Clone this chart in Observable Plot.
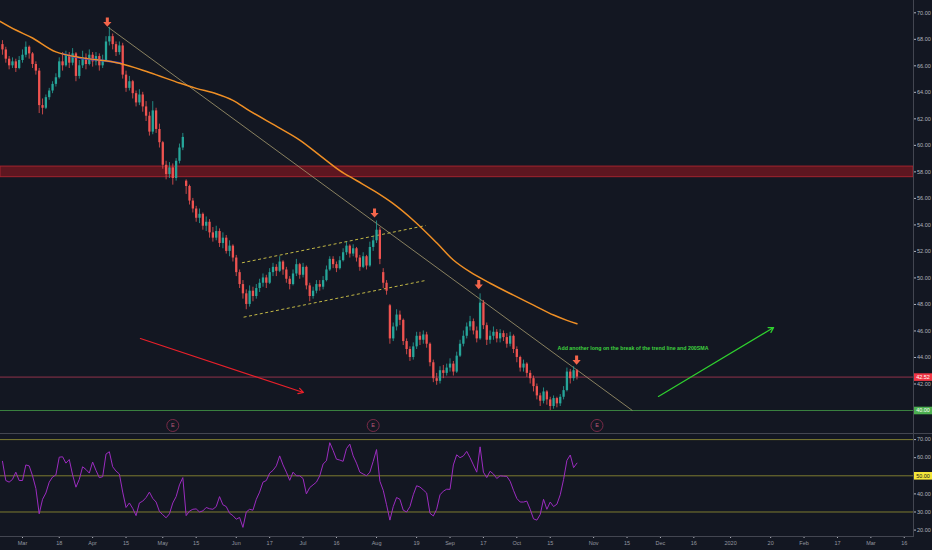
<!DOCTYPE html>
<html><head><meta charset="utf-8">
<script src="https://cdn.jsdelivr.net/npm/d3@7"></script>
<script src="https://cdn.jsdelivr.net/npm/@observablehq/plot@0.6"></script>
<style>
html,body{margin:0;padding:0;background:#131722;}
#chart{width:932px;height:550px;overflow:hidden;background:#131722;}
#chart svg{display:block;}
.divider{height:1px;background:#434651;width:932px;}
</style></head><body><div id="chart"></div>
<script>
// ---------- data ----------
const baseDate = "2019-03-01";   // bar 0
const firstDate = "2019-02-21";  // first candle
const holidays = ["2019-04-19","2019-05-27","2019-07-04","2019-09-02","2019-11-28","2019-12-25","2020-01-01"];

const opens = [67.6,67.2,66.5,66.0,66.3,65.8,
66.4,66.8,67.4,66.9,66.1,65.6,63.0,62.8,63.6,64.1,
64.6,65.1,66.3,66.0,66.8,66.2,66.9,65.2,66.0,66.6,
66.1,66.8,66.3,66.7,66.0,66.4,67.8,68.2,67.6,67.0,
67.5,65.3,64.3,64.8,63.9,63.2,63.8,62.9,62.2,61.0,
62.6,61.2,60.2,58.5,57.8,58.3,57.5,58.8,59.8,57.3,
56.9,55.8,55.2,54.5,54.8,53.9,54.2,53.4,53.0,53.5,
52.6,53.0,52.0,52.4,51.5,50.4,49.5,48.8,48.0,49.0,
48.6,49.2,49.6,50.0,49.6,50.4,50.8,50.5,51.2,50.6,
49.9,49.5,50.3,51.0,50.2,50.8,49.4,48.6,49.0,49.5,
49.3,49.8,50.6,51.4,51.0,50.7,51.3,51.9,52.4,51.8,
52.2,51.5,50.8,51.6,50.9,52.3,52.8,53.6,50.4,49.6,
47.9,45.4,46.3,47.2,46.8,45.2,44.6,44.0,44.8,45.6,
45.3,45.7,45.0,43.6,42.4,42.2,43.0,42.8,43.2,43.5,
42.9,44.1,45.0,45.6,46.3,46.7,46.0,45.4,48.1,46.4,
45.3,45.6,45.9,45.4,45.8,45.5,45.0,45.6,44.6,44.0,
43.2,43.5,42.8,42.4,41.8,41.1,40.7,41.4,40.8,40.3,
40.9,40.5,41.0,41.5,42.9,42.4,43.0];
const highs = [67.9,67.4,66.7,66.6,66.5,66.7,
67.2,67.8,67.5,67.0,66.3,65.8,63.5,63.8,64.3,64.8,
65.4,66.6,67.0,67.1,67.0,67.3,67.0,66.4,67.1,66.9,
67.2,67.0,67.0,66.9,66.8,68.2,68.9,68.4,67.8,67.8,
67.7,65.6,65.2,64.9,64.1,64.2,64.0,63.3,62.5,63.3,
62.8,61.6,60.3,58.8,58.7,58.6,59.0,60.1,60.9,57.4,
57.0,56.0,55.4,55.2,54.9,54.6,54.4,53.8,53.9,53.7,
53.4,53.2,52.8,52.5,51.7,50.6,49.8,49.1,49.4,49.3,
49.5,49.9,50.3,50.2,50.7,51.1,51.0,51.6,51.3,50.8,
50.1,50.6,51.4,51.1,51.1,50.9,49.6,49.3,49.8,49.8,
50.1,50.9,51.6,51.6,51.2,51.6,52.2,52.7,52.5,52.5,
52.3,51.7,51.9,51.7,52.7,53.1,54.3,53.8,50.7,49.8,
48.0,46.6,47.6,47.5,46.9,45.4,44.8,45.1,45.9,45.9,
46.0,45.9,45.1,43.8,42.8,43.3,43.4,43.5,43.9,43.7,
44.4,45.3,46.0,46.6,47.1,46.9,46.3,48.8,48.3,46.6,
46.0,46.3,46.1,46.1,46.0,45.8,45.9,45.7,44.8,44.1,
43.8,43.6,43.0,42.6,42.0,41.3,41.7,41.5,41.0,41.1,
41.0,41.2,41.8,43.2,43.1,43.3,43.1];
const lows = [66.8,66.2,65.7,65.8,65.5,65.7,
66.2,66.6,66.5,65.8,65.3,62.4,62.3,62.7,63.4,63.9,
64.4,65.0,65.6,65.9,65.8,66.0,64.8,65.0,65.8,65.7,
66.0,65.9,66.0,65.6,65.8,66.3,67.5,67.2,66.7,66.8,
65.0,64.0,64.1,63.5,62.9,63.0,62.5,61.8,60.7,60.8,
60.9,59.8,58.2,57.4,57.5,57.0,57.3,58.6,59.6,56.3,
55.5,54.9,54.2,54.1,53.6,53.5,53.0,52.7,52.8,52.3,
52.2,51.8,51.6,51.2,50.1,49.2,48.4,47.6,47.8,48.2,
48.4,48.9,49.3,49.2,49.5,50.1,50.1,50.4,50.2,49.6,
49.1,49.4,50.1,49.9,50.0,49.1,48.2,48.4,48.8,49.0,
49.1,49.7,50.5,50.7,50.4,50.6,51.2,51.7,51.5,51.6,
51.2,50.5,50.7,50.6,50.8,52.0,52.6,51.0,49.2,48.7,
45.0,45.2,46.0,46.4,44.9,44.2,43.7,43.8,44.6,44.9,
45.0,44.7,43.3,42.1,41.9,42.0,42.4,42.6,42.9,42.6,
42.8,44.0,44.8,45.4,46.0,45.7,45.1,45.3,46.1,44.9,
45.0,45.3,45.1,45.1,45.2,44.7,44.8,44.3,43.6,42.9,
42.9,42.5,42.0,41.4,40.8,40.3,40.5,40.4,40.0,40.1,
40.2,40.3,40.8,41.4,42.0,42.2,42.3];
const closes = [67.2,66.5,66.0,66.3,65.8,66.4,
66.8,67.4,66.9,66.1,65.6,63.0,62.8,63.6,64.1,64.6,
65.1,66.3,66.0,66.8,66.2,66.9,65.2,66.0,66.6,66.1,
66.8,66.3,66.7,66.0,66.4,67.8,68.2,67.6,67.0,67.5,
65.3,64.3,64.8,63.9,63.2,63.8,62.9,62.2,61.0,62.6,
61.2,60.2,58.5,57.8,58.3,57.5,58.8,59.8,60.6,56.9,
55.8,55.2,54.5,54.8,53.9,54.2,53.4,53.0,53.5,52.6,
53.0,52.0,52.4,51.5,50.4,49.5,48.8,48.0,49.0,48.6,
49.2,49.6,50.0,49.6,50.4,50.8,50.5,51.2,50.6,49.9,
49.5,50.3,51.0,50.2,50.8,49.4,48.6,49.0,49.5,49.3,
49.8,50.6,51.4,51.0,50.7,51.3,51.9,52.4,51.8,52.2,
51.5,50.8,51.6,50.9,52.3,52.8,53.6,51.4,49.6,49.0,
45.4,46.3,47.2,46.8,45.2,44.6,44.0,44.8,45.6,45.3,
45.7,45.0,43.6,42.4,42.2,43.0,42.8,43.2,43.5,42.9,
44.1,45.0,45.6,46.3,46.7,46.0,45.4,48.1,46.4,45.3,
45.6,45.9,45.4,45.8,45.5,45.0,45.6,44.6,44.0,43.2,
43.5,42.8,42.4,41.8,41.1,40.7,41.4,40.8,40.3,40.9,
40.5,41.0,41.5,42.9,42.4,43.0,42.52];
const rsiValues = [58,47.4,46.5,48,52,47.4,
47.4,56,55.5,50,43,29,37,40.5,46.5,49.3,
50.5,60.3,60.5,57,59,50.5,43.7,48,55,53.5,
51.5,57.6,53,49,49.5,62,63.3,55,52.6,51,
41,32.5,35,32,28,35,36,38,41,37.5,
35.5,30.3,28.5,26.8,29,35,38.5,45,49,28,
30.5,31.5,31.7,30,30.6,32.5,31.8,31.5,33,38.5,
34,33,29.3,28,26,27,21.5,30,31.5,31,
37,41,46.5,47.4,51.5,53,55.5,61,56,52,
47.5,52,50,50,48.5,40,43.5,45,46.5,50,
56.5,58.3,68.3,64,59.2,58.7,58,65,67.5,61,
57,52,51,50,52,58,64.5,47,42,34,
25.5,33,38,37,31,30,33,39.5,44.5,43.8,
42.2,40.5,29.3,27.8,31.5,39.5,41.5,42.6,42.5,56,
61.6,60,61,63.5,60,56,52,66,52,49,
52.5,51,48.5,50,49.8,49.7,47,42,37.5,35.5,
35.5,36,31.5,26.2,25.5,28.6,37,31.5,35.5,33,
34.3,39.5,48,58.5,61.5,54.5,57];

// 200 SMA (bar, value)
const smaBars   = [-7,-2,3,10,18,29,38,47,52,58,63,68,77,83,89,95,100,106,111,117,124,129,134,140,147,153,159,163,166];
const smaValues = [69.4,68.7,68.1,67.05,66.6,66.2,65.5,64.7,64.3,63.9,63.4,62.6,61.3,60.4,59.25,58.1,57.35,56.45,55.6,54.35,52.65,51.35,50.45,49.6,48.7,47.95,47.2,46.8,46.55];
const blueBars = [12,17,24,29.5];
const blueValues = [66.9,66.6,66.4,66.2];

// drawings (bar, price)
const trendLine = [[25.7,68.9],[182.6,40.0]];
const channelUpper = [[65.7,51.14],[120.7,53.95]];
const channelLower = [[66.2,47.04],[120.7,49.81]];
const redArrow = [[35.3,45.43],[84.1,41.36]];
const greenArrow = [[190.4,41.06],[224.9,46.26]];
const peakMarkers = [[25.4,69.3],[105.4,54.9],[136.6,49.5],[165.9,43.8]];
const earningsBars = [45,105,172];
const earningsLevel = 38.87;
const supplyZone = [57.6,58.4];
const lastPrice = 42.52;
const supportLevel = 40.00;
const note = {bar:160.2, price:44.68, text:"Add another long on the break of the trend line and 200SMA"};

// axis tick values (40.00 and 50.00 are shown by their coloured tags)
const priceTicks = [42,44,46,48,50,52,54,56,58,60,62,64,66,68,70];
const rsiTicks = [20,30,40,60,70];
const rsiBands = [70,50,30];
const rsiMid = 50;
const timeTicks = [["2019-03-01","Mar"],["2019-03-18","18"],["2019-04-01","Apr"],["2019-04-15","15"],["2019-05-01","May"],["2019-05-15","15"],["2019-06-03","Jun"],["2019-06-17","17"],["2019-07-01","Jul"],["2019-07-16","16"],["2019-08-01","Aug"],["2019-08-19","19"],["2019-09-03","Sep"],["2019-09-17","17"],["2019-10-01","Oct"],["2019-10-15","15"],["2019-11-01","Nov"],["2019-11-15","15"],["2019-12-02","Dec"],["2019-12-16","16"],["2020-01-02","2020"],["2020-01-20","20"],["2020-02-03","Feb"],["2020-02-17","17"],["2020-03-02","Mar"],["2020-03-16","16"]];

// ---------- calendar ----------
function tradingDays(from, to){
  const out=[]; const hol=new Set(holidays);
  for(let d=new Date(from+"T00:00:00Z"); d<=new Date(to+"T00:00:00Z"); d.setUTCDate(d.getUTCDate()+1)){
    const w=d.getUTCDay(), s=d.toISOString().slice(0,10);
    if(w>0 && w<6 && !hol.has(s)) out.push(s);
  }
  return out;
}
const cal = tradingDays("2019-02-01","2020-04-30");
const idxOf = s => cal.indexOf(s) - cal.indexOf(baseDate);
const startIdx = idxOf(firstDate);

const bars = closes.map((c,k)=>({i:startIdx+k,o:opens[k],h:highs[k],l:lows[k],c,rsi:rsiValues[k],up:c>=opens[k]}));
const sma = smaBars.map((b,k)=>({i:b,v:smaValues[k]}));
const blue = blueBars.map((b,k)=>({i:b,v:blueValues[k]}));
const seg = a => [{x1:a[0][0],y1:a[0][1],x2:a[1][0],y2:a[1][1]}];

// ---------- layout ----------
const W = 932, PX_PER_BAR = 3.34, X0 = 22, AXIS_W = 19;
const xDomain = [-X0/PX_PER_BAR, (W-AXIS_W-X0)/PX_PER_BAR];
const UP="#26a69a", DOWN="#ef5350", BG="#131722", AXIS="#434651", TXT="#b2b5be";
const font = "'Liberation Sans', Arial, sans-serif";

const downArrow = {draw(ctx,size){const r=Math.sqrt(size/Math.PI);
  ctx.moveTo(-0.33*r,-r); ctx.lineTo(0.33*r,-r); ctx.lineTo(0.33*r,0); ctx.lineTo(0.9*r,0);
  ctx.lineTo(0,r); ctx.lineTo(-0.9*r,0); ctx.lineTo(-0.33*r,0); ctx.closePath();}};
const tagBox = {draw(ctx){ctx.rect(-9.5,-3.8,19,7.6);}};

const main = Plot.plot({
  width:W, height:433, marginLeft:0, marginRight:AXIS_W, marginTop:0, marginBottom:0,
  style:{background:BG, color:TXT, fontFamily:font, overflow:"visible"},
  x:{domain:xDomain, axis:null, label:null},
  y:{domain:[38.265,70.928], axis:null, label:null},
  marks:[
    Plot.rect([supplyZone],{x1:xDomain[0],x2:xDomain[1],y1:d=>d[0],y2:d=>d[1],fill:"#6b1620",fillOpacity:0.85,stroke:"#a3232e",strokeWidth:1}),
    Plot.ruleY([lastPrice],{stroke:"#b03a55",strokeWidth:0.8}),
    Plot.ruleY([supportLevel],{stroke:"#3e8e44",strokeWidth:0.9}),
    Plot.link(seg(trendLine),{x1:"x1",y1:"y1",x2:"x2",y2:"y2",stroke:"#a79c70",strokeWidth:0.8}),
    Plot.link(seg(channelUpper),{x1:"x1",y1:"y1",x2:"x2",y2:"y2",stroke:"#d6c94a",strokeWidth:0.9,strokeDasharray:"3,2.5"}),
    Plot.link(seg(channelLower),{x1:"x1",y1:"y1",x2:"x2",y2:"y2",stroke:"#d6c94a",strokeWidth:0.9,strokeDasharray:"3,2.5"}),
    Plot.ruleX(bars,{x:"i",y1:"l",y2:"h",stroke:d=>d.up?UP:DOWN,strokeWidth:0.8}),
    Plot.ruleX(bars,{x:"i",y1:"o",y2:"c",stroke:d=>d.up?UP:DOWN,strokeWidth:2.3}),
    Plot.line(blue,{x:"i",y:"v",stroke:"#2630c8",strokeWidth:2,curve:"catmull-rom"}),
    Plot.line(sma,{x:"i",y:"v",stroke:"#ef8f25",strokeWidth:1.5,curve:"catmull-rom"}),
    Plot.arrow(seg(redArrow),{x1:"x1",y1:"y1",x2:"x2",y2:"y2",stroke:"#e8202a",strokeWidth:1.2,headLength:7}),
    Plot.arrow(seg(greenArrow),{x1:"x1",y1:"y1",x2:"x2",y2:"y2",stroke:"#2fd12f",strokeWidth:1.2,headLength:7}),
    Plot.dot(peakMarkers,{x:d=>d[0],y:d=>d[1],symbol:downArrow,r:4.6,fill:"#f3654b",stroke:"none"}),
    Plot.dot(earningsBars,{x:d=>d,y:()=>earningsLevel,r:6,fill:BG,stroke:"#7a2b48",strokeWidth:1}),
    Plot.text(earningsBars,{x:d=>d,y:()=>earningsLevel,text:()=>"E",fill:"#b85a7a",fontSize:5.5}),
    Plot.text([note],{x:"bar",y:"price",text:"text",fill:"#3fd43f",fontSize:5.6,fontWeight:"bold",textAnchor:"start"}),
    Plot.axisY(priceTicks,{anchor:"right",label:null,tickFormat:d=>d.toFixed(2),tickSize:2,tickPadding:1.5,fontSize:5.5,stroke:TXT,fill:TXT}),
    Plot.dot([lastPrice],{y:d=>d,frameAnchor:"right",dx:9.5,symbol:tagBox,fill:"#f23645",stroke:"none"}),
    Plot.text([lastPrice],{y:d=>d,frameAnchor:"right",dx:9.5,textAnchor:"middle",text:d=>d.toFixed(2),fill:"#ffffff",fontSize:5.5}),
    Plot.dot([supportLevel],{y:d=>d,frameAnchor:"right",dx:9.5,symbol:tagBox,fill:"#4caf50",stroke:"none"}),
    Plot.text([supportLevel],{y:d=>d,frameAnchor:"right",dx:9.5,textAnchor:"middle",text:d=>d.toFixed(2),fill:"#ffffff",fontSize:5.5}),
    Plot.frame({anchor:"right",stroke:AXIS})
  ]
});

const rsi = Plot.plot({
  width:W, height:116, marginLeft:0, marginRight:AXIS_W, marginTop:0, marginBottom:14,
  style:{background:BG, color:TXT, fontFamily:font, overflow:"visible"},
  x:{domain:xDomain, axis:null, label:null},
  y:{domain:[16.46,72.82], axis:null, label:null},
  marks:[
    Plot.ruleY(rsiBands,{stroke:"#7d7b30",strokeWidth:1}),
    Plot.line(bars,{x:"i",y:"rsi",stroke:"#9c2cc0",strokeWidth:1}),
    Plot.axisY(rsiTicks,{anchor:"right",label:null,tickFormat:d=>d.toFixed(2),tickSize:2,tickPadding:1.5,fontSize:5.5,stroke:TXT,fill:TXT}),
    Plot.dot([rsiMid],{y:d=>d,frameAnchor:"right",dx:9.5,symbol:tagBox,fill:"#f5e63a",stroke:"none"}),
    Plot.text([rsiMid],{y:d=>d,frameAnchor:"right",dx:9.5,textAnchor:"middle",text:d=>d.toFixed(2),fill:"#131722",fontSize:5.5}),
    Plot.axisX(timeTicks.map(t=>idxOf(t[0])),{anchor:"bottom",label:null,tickFormat:(d,k)=>timeTicks[k][1],tickSize:2,tickPadding:3,fontSize:5.5,stroke:TXT,fill:"#9598a1"}),
    Plot.frame({anchor:"bottom",stroke:AXIS}),
    Plot.frame({anchor:"right",stroke:AXIS})
  ]
});

const root = document.getElementById("chart");
root.appendChild(main);
const div = document.createElement("div"); div.className="divider"; root.appendChild(div);
root.appendChild(rsi);
// fit the note to its measured width in the picture
for (const t of main.querySelectorAll("text")) {
  if (t.textContent.startsWith("Add another")) { t.setAttribute("textLength","151"); t.setAttribute("lengthAdjust","spacingAndGlyphs"); }
}
</script>
</body></html>
